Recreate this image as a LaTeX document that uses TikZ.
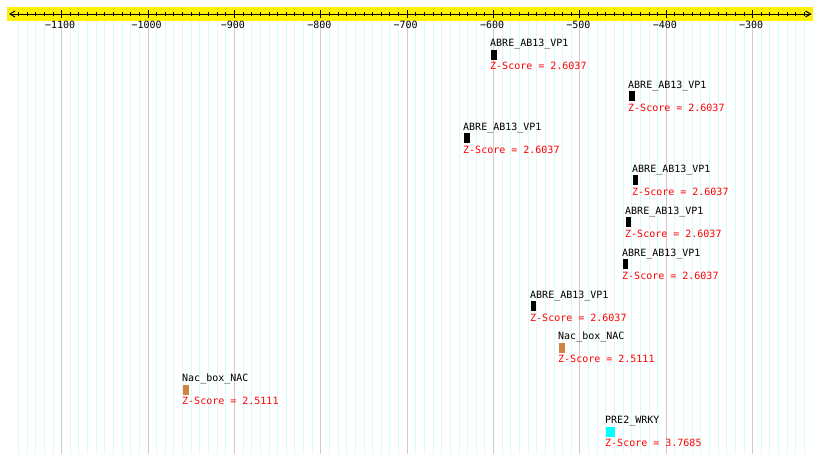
\documentclass[tikz,border=0pt]{standalone}
\usepackage{fontspec}
\usetikzlibrary{calc}
\setmonofont{DejaVu Sans Mono}
\definecolor{minorgrid}{RGB}{215,250,250}
\definecolor{majorgrid}{RGB}{205,205,205}
\definecolor{nacbrown}{RGB}{205,133,63}
\definecolor{wrkycyan}{RGB}{0,255,255}
\begin{document}
\begin{tikzpicture}[x=1pt,y=-1pt,
  mgrid/.style={draw=minorgrid,line width=1pt},
  Mgrid/.style={draw=majorgrid,line width=1pt},
  axisline/.style={draw=black,line width=1pt},
  txt/.style={font=\ttfamily\fontsize{10}{10}\selectfont,inner sep=0pt,anchor=base west},
  zs/.style={txt,text=red},
  ticklabel/.style={font=\ttfamily\fontsize{10}{10}\selectfont,inner sep=0pt,anchor=base},
  feat/.style={inner sep=0pt,minimum height=10pt,anchor=north west,draw=none}
]
\useasboundingbox (0,0) rectangle (820,463);
\fill[white] (0,0) rectangle (820,463);
% grid
\foreach \v in {-1150,-1140,...,-240}{
  \draw[mgrid] ({61.7+(\v+1100)*0.86375},20) -- ++(0,434);
}
\foreach \v in {-1100,-1000,...,-300}{
  \draw[Mgrid] ({61.7+(\v+1100)*0.86375},20) -- ++(0,434);
}
% axis band
\fill[yellow] (7,7) rectangle (813,20.5);
\coordinate (axL) at (10,14);
\coordinate (axR) at (810.5,14);
\draw[axisline] (axL) -- (axR);
\draw[axisline] ($(axL)+(5,-3)$) -- (axL) -- ($(axL)+(5,3)$);
\draw[axisline] ($(axR)+(-5,-3)$) -- (axR) -- ($(axR)+(-5,3)$);
\foreach \v in {-1150,-1140,...,-240}{
  \draw[line width=1pt] ({61.7+(\v+1100)*0.86375},12) -- ++(0,4);
}
\foreach \v/\t [count=\i] in {-1100/1100,-1000/1000,-900/900,-800/800,-700/700,-600/600,-500/500,-400/400,-300/300}{
  \draw[line width=1pt] ({61.7+(\v+1100)*0.86375},10) -- ++(0,8);
  \node[ticklabel] (tl\i) at ({61.7+(\v+1100)*0.86375-1.5},28) {−\t};
}
% features
\foreach \i/\x/\w/\c/\lab/\z in {
  1/491/6/black/ABRE\_AB13\_VP1/2.6037,
  2/629/6/black/ABRE\_AB13\_VP1/2.6037,
  3/464/6/black/ABRE\_AB13\_VP1/2.6037,
  4/633/5/black/ABRE\_AB13\_VP1/2.6037,
  5/626/5/black/ABRE\_AB13\_VP1/2.6037,
  6/623/5/black/ABRE\_AB13\_VP1/2.6037,
  7/531/5/black/ABRE\_AB13\_VP1/2.6037,
  8/559/6/nacbrown/Nac\_box\_NAC/2.5111,
  9/183/6/nacbrown/Nac\_box\_NAC/2.5111,
  10/606/9/wrkycyan/PRE2\_WRKY/3.7685}{
  \pgfmathsetmacro\T{49.3+41.9*(\i-1)}
  \node[feat,fill=\c,minimum width=\w pt] (box\i) at (\x,\T) {};
  \node[txt] (lab\i) at (\x-1,\T-2.7) {\lab};
  \node[zs] (z\i) at (\x-1,\T+20.3) {Z-Score = \z};
}
\end{tikzpicture}
\end{document}
